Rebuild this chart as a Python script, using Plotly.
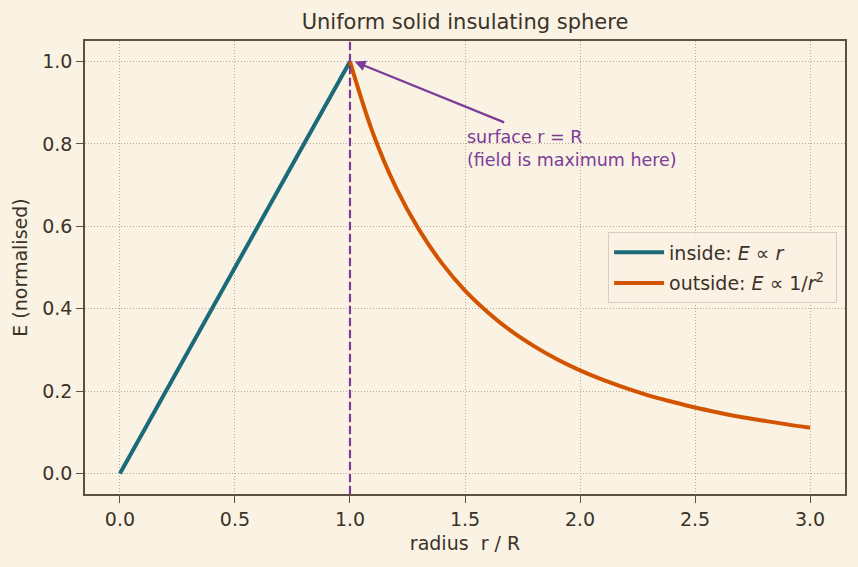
import plotly.graph_objects as go

# data
r_inside = [0.0, 1.0]
E_inside = [0.0, 1.0]
r_outside = [1.0, 1.1, 1.2, 1.3, 1.4, 1.5, 1.6, 1.7, 1.8, 1.9, 2.0,
             2.1, 2.2, 2.3, 2.4, 2.5, 2.6, 2.7, 2.8, 2.9, 3.0]
E_outside = [1.0, 0.826, 0.694, 0.592, 0.510, 0.444, 0.391, 0.346, 0.309, 0.277, 0.250,
             0.227, 0.207, 0.189, 0.174, 0.160, 0.148, 0.137, 0.128, 0.119, 0.111]
x_ticks = [0.0, 0.5, 1.0, 1.5, 2.0, 2.5, 3.0]
y_ticks = [0.0, 0.2, 0.4, 0.6, 0.8, 1.0]
surface_r = 1.0

BG = "#faf2e3"
TXT = "#3b3329"
SPINE = "#5c5244"
GRID = "#b3aa9c"
TEAL = "#1a6a78"
ORANGE = "#d35400"
PURPLE = "#7d3c98"
FONT = "DejaVu Sans"

fig = go.Figure()
fig.add_trace(go.Scatter(x=r_inside, y=E_inside, mode="lines",
                         line=dict(color=TEAL, width=4), legendgroup="a",
                         name="inside: <i>E</i> ∝ <i>r</i> "))
fig.add_trace(go.Scatter(x=r_outside, y=E_outside, mode="lines",
                         line=dict(color=ORANGE, width=4, shape="spline"), legendgroup="b",
                         name="outside: <i>E</i> ∝ 1/<i>r</i><sup>2</sup> "))

fig.add_shape(type="line", x0=surface_r, x1=surface_r, y0=0, y1=1,
              xref="x", yref="paper",
              line=dict(color=PURPLE, width=2.2, dash="8px,4px"))

fig.add_annotation(x=1.02, y=1.0, ax=1.69, ay=0.848, xref="x", yref="y",
                   axref="x", ayref="y", text=" ", showarrow=True,
                   arrowhead=2, arrowsize=1, arrowwidth=2.2, arrowcolor=PURPLE)
fig.add_annotation(x=1.5, y=0.733, xref="x", yref="y", xanchor="left", yanchor="bottom",
                   text="surface r = R<br>(field is maximum here)", showarrow=False,
                   align="left", font=dict(color=PURPLE, size=17.5, family=FONT))

axis_common = dict(showline=True, mirror=True, linecolor=SPINE, linewidth=1.6,
                   showgrid=True, gridcolor=GRID, griddash="1px,2px", gridwidth=1,
                   ticks="outside", ticklen=7, tickwidth=1.4, tickcolor=SPINE,
                   zeroline=False, tickfont=dict(size=19, color=TXT, family=FONT))

fig.update_xaxes(range=[-0.152, 3.152], tickvals=x_ticks,
                 ticktext=[f"{v:.1f}" for v in x_ticks],
                 title=dict(text="radius  r / R", font=dict(size=19, color=TXT, family=FONT),
                            standoff=8),
                 **axis_common)
fig.update_yaxes(range=[-0.05, 1.05], tickvals=y_ticks,
                 ticktext=[f"{v:.1f}" for v in y_ticks],
                 title=dict(text="E (normalised)", font=dict(size=19, color=TXT, family=FONT),
                            standoff=10),
                 **axis_common)

fig.update_layout(
    width=858, height=567,
    paper_bgcolor=BG, plot_bgcolor=BG,
    margin=dict(l=85, r=13, t=41, b=73),
    font=dict(family=FONT, color=TXT, size=19),
    title=dict(text="Uniform solid insulating sphere", x=0.5, xref="paper",
               xanchor="center", y=1 - 22 / 567, yanchor="middle",
               font=dict(size=21, color=TXT, family=FONT)),
    legend=dict(x=0.688, y=0.578, xanchor="left", yanchor="top",
                bgcolor="rgba(250,242,227,0.85)", bordercolor="#d6cfc3", borderwidth=1.2,
                font=dict(size=19, color=TXT, family=FONT), tracegroupgap=3,
                itemwidth=50),
    showlegend=True,
)

fig.write_html("out.html")
